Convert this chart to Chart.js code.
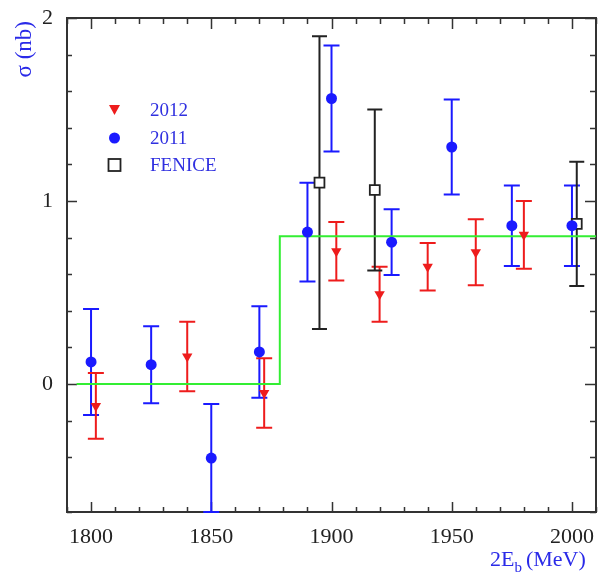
<!DOCTYPE html>
<html>
<head>
<meta charset="utf-8">
<script src="https://cdn.jsdelivr.net/npm/chart.js@4"></script>
<style>
  html, body { margin: 0; padding: 0; background: #fff; }
  #wrap { width: 598px; height: 573px; }
</style>
</head>
<body>
<div id="wrap"><canvas id="sigmaChart" width="598" height="573"></canvas></div>
<script>
// 2011 scan (blue circles)
const x2011 = [1800, 1825, 1850, 1870, 1890, 1900, 1925, 1950, 1975, 2000];
const y2011 = [0.12, 0.105, -0.405, 0.175, 0.83, 1.56, 0.775, 1.295, 0.865, 0.865];
const e2011 = [0.29, 0.21, 0.295, 0.25, 0.27, 0.29, 0.18, 0.26, 0.22, 0.22];

// 2012 scan (red triangles)
const x2012 = [1802, 1840, 1872, 1902, 1920, 1940, 1960, 1980];
const y2012 = [-0.12, 0.15, -0.05, 0.725, 0.49, 0.64, 0.72, 0.815];
const e2012 = [0.18, 0.19, 0.19, 0.16, 0.15, 0.13, 0.18, 0.185];

// FENICE (open squares)
const xFenice = [1895, 1918, 2002];
const yFenice = [1.10, 1.06, 0.875];
const eFenice = [0.80, 0.44, 0.34];

// step fit
const stepX = [1794, 1878.5, 2010];
const stepY = [0, 0.807, 0.807];

const xMin = 1790, xMax = 2010, yMin = -0.7, yMax = 2;
const serif = '"Liberation Serif", "DejaVu Serif", serif';

const pts = (xs, ys) => xs.map((x, i) => ({ x: x, y: ys[i] }));

// error bars, frame and inward ticks
const physPlugin = {
    id: 'phys',
    beforeDatasetsDraw(chart) {
        const { ctx, chartArea: a, scales: { x, y } } = chart;
        ctx.save();
        ctx.strokeStyle = '#333';
        ctx.lineWidth = 2;
        ctx.strokeRect(a.left, a.top, a.right - a.left, a.bottom - a.top);
        ctx.lineWidth = 1.5;
        x.ticks.forEach(t => {
            const px = Math.round(x.getPixelForValue(t.value)) + 0.5;
            const len = t.value % 50 === 0 ? 10 : 5;
            ctx.beginPath();
            ctx.moveTo(px, a.bottom); ctx.lineTo(px, a.bottom - len);
            ctx.moveTo(px, a.top); ctx.lineTo(px, a.top + len + 1);
            ctx.stroke();
        });
        y.ticks.forEach(t => {
            const py = Math.round(y.getPixelForValue(t.value)) + 0.5;
            const major = Math.abs(t.value - Math.round(t.value)) < 1e-6;
            const len = major ? 10 : 5;
            ctx.beginPath();
            ctx.moveTo(a.left, py); ctx.lineTo(a.left + len, py);
            ctx.moveTo(a.right, py); ctx.lineTo(a.right - len - 1, py);
            ctx.stroke();
        });

        // error bars
        ctx.beginPath();
        ctx.rect(a.left - 1, a.top, a.right - a.left + 2, a.bottom - a.top + 1);
        ctx.clip();
        const bars = [
            [x2011, y2011, e2011, '#1a1aff', 8],
            [x2012, y2012, e2012, '#ee1c1c', 8],
            [xFenice, yFenice, eFenice, '#222', 7.5]
        ];
        ctx.lineWidth = 2;
        bars.forEach(([xs, ys, es, col, cap]) => {
            ctx.strokeStyle = col;
            xs.forEach((xv, i) => {
                const px = x.getPixelForValue(xv);
                const top = y.getPixelForValue(ys[i] + es[i]);
                const bot = y.getPixelForValue(ys[i] - es[i]);
                ctx.beginPath();
                ctx.moveTo(px, top); ctx.lineTo(px, bot);
                ctx.moveTo(px - cap, top); ctx.lineTo(px + cap, top);
                ctx.moveTo(px - cap, bot); ctx.lineTo(px + cap, bot);
                ctx.stroke();
            });
        });
        ctx.restore();
    },
    afterDraw(chart) {
        const { ctx } = chart;
        ctx.save();
        // legend
        const rows = [
            ['2012', 110, 'tri'],
            ['2011', 138, 'dot'],
            ['FENICE', 165, 'sq']
        ];
        rows.forEach(([label, py, kind]) => {
            const mx = 114.5;
            ctx.beginPath();
            if (kind === 'tri') {
                ctx.fillStyle = '#ee1c1c';
                ctx.moveTo(mx - 5.5, py - 5); ctx.lineTo(mx + 5.5, py - 5); ctx.lineTo(mx, py + 5);
                ctx.closePath(); ctx.fill();
            } else if (kind === 'dot') {
                ctx.fillStyle = '#1a1aff';
                ctx.arc(mx, py, 5.5, 0, Math.PI * 2); ctx.fill();
            } else {
                ctx.strokeStyle = '#222'; ctx.lineWidth = 1.8;
                ctx.strokeRect(mx - 6, py - 6, 12, 12);
            }
            ctx.fillStyle = '#3030e0';
            ctx.font = '19px ' + serif;
            ctx.textAlign = 'left';
            ctx.textBaseline = 'middle';
            ctx.fillText(label, 150, py + 1);
        });

        // y title
        ctx.save();
        ctx.translate(25, 21);
        ctx.rotate(-Math.PI / 2);
        ctx.fillStyle = '#2a2ae8';
        ctx.font = '23px ' + serif;
        ctx.textAlign = 'right';
        ctx.textBaseline = 'middle';
        ctx.fillText('σ (nb)', 0, 0);
        ctx.restore();

        // x title with subscript
        ctx.fillStyle = '#2a2ae8';
        ctx.textAlign = 'left';
        ctx.textBaseline = 'alphabetic';
        ctx.font = '22px ' + serif;
        let px = 490;
        ctx.fillText('2E', px, 566);
        px += ctx.measureText('2E').width;
        ctx.font = '15px ' + serif;
        ctx.fillText('b', px, 572);
        px += ctx.measureText('b').width + 4;
        ctx.font = '22px ' + serif;
        ctx.fillText('(MeV)', px, 566);
        ctx.restore();
    }
};

const ctx = document.getElementById('sigmaChart');
const sigmaChart = new Chart(ctx, { //eslint-disable-line
    type: 'scatter',
    data: {
        datasets: [{
            label: 'fit',
            type: 'line',
            data: pts(stepX, stepY),
            stepped: 'before',
            borderColor: '#33ee33',
            borderWidth: 2,
            pointRadius: 0,
            fill: false,
            order: 3
        }, {
            label: 'FENICE',
            data: pts(xFenice, yFenice),
            pointStyle: 'rect',
            pointRadius: 7,
            backgroundColor: '#fff',
            borderColor: '#222',
            borderWidth: 1.8,
            order: 2
        }, {
            label: '2011',
            data: pts(x2011, y2011),
            pointStyle: 'circle',
            pointRadius: 5.5,
            backgroundColor: '#1a1aff',
            borderColor: '#1a1aff',
            borderWidth: 0,
            order: 1
        }, {
            label: '2012',
            data: pts(x2012, y2012),
            pointStyle: 'triangle',
            rotation: 180,
            pointRadius: 6,
            backgroundColor: '#ee1c1c',
            borderColor: '#ee1c1c',
            borderWidth: 0,
            order: 0
        }]
    },
    options: {
        responsive: false,
        animation: false,
        layout: { autoPadding: false, padding: { top: 18, right: 2, left: 0, bottom: 0 } },
        plugins: {
            legend: { display: false },
            tooltip: { enabled: false }
        },
        scales: {
            x: {
                type: 'linear',
                min: xMin,
                max: xMax,
                grid: { display: false },
                border: { display: false },
                afterFit: s => { s.height = 61; s.paddingLeft = 0; s.paddingRight = 0; },
                ticks: {
                    stepSize: 10,
                    autoSkip: false,
                    maxRotation: 0,
                    padding: 4,
                    color: '#222',
                    font: { family: serif, size: 22 },
                    callback: v => (v % 50 === 0 ? String(v) : '')
                }
            },
            y: {
                type: 'linear',
                min: yMin,
                max: yMax,
                grid: { display: false },
                border: { display: false },
                afterFit: s => { s.width = 67; s.paddingTop = 0; s.paddingBottom = 0; },
                ticks: {
                    stepSize: 0.2,
                    autoSkip: false,
                    padding: 6,
                    color: '#222',
                    font: { family: serif, size: 22 },
                    callback: v => (Math.abs(v - Math.round(v)) < 1e-6 ? String(Math.round(v)) : '')
                }
            }
        }
    },
    plugins: [physPlugin]
});
</script>
</body>
</html>
